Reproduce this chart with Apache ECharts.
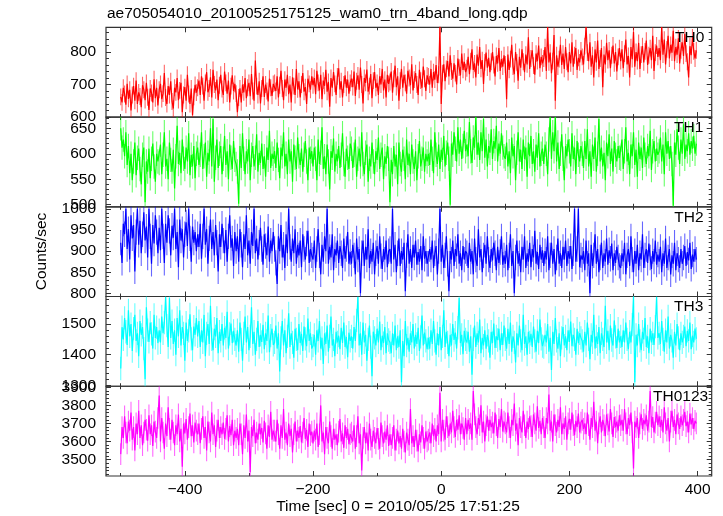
<!DOCTYPE html>
<html>
<head>
<meta charset="utf-8">
<script src="https://cdn.jsdelivr.net/npm/echarts@6/dist/echarts.min.js"></script>
<style>
html,body{margin:0;padding:0;background:#fff;}
#chart{width:723px;height:516px;}
</style>
</head>
<body>
<div id="chart"></div>
<script>
// ---- data (time bins of 2 s starting at -500 s) ----
const tStart = -500;
const binSec = 2;
const panelNames = ['TH0', 'TH1', 'TH2', 'TH3', 'TH0123'];
const titleText = 'ae705054010_20100525175125_wam0_trn_4band_long.qdp';
const xTitle = 'Time [sec] 0 = 2010/05/25 17:51:25';
const yTitle = 'Counts/sec';
const xMajorTicks = [-400, -200, 0, 200, 400];
const xMinorTicks = [-500, -300, -100, 100, 300];
const yMajorTicks = [
  [600, 700, 800],
  [500, 550, 600, 650],
  [800, 850, 900, 950, 1000],
  [1300, 1400, 1500],
  [3500, 3600, 3700, 3800, 3900]
];
// half-length of the 1-sigma error bars, counts/sec
const errHalf = [26, 24, 30, 38, 60];

const th0 = [
662,645,690,671,638,702,656,684,620,668,695,650,712,640,676,663,630,698,684,652,705,661,622,688,674,645,716,658,690,636,
684,702,655,672,735,660,640,695,668,710,648,626,690,676,720,652,682,705,615,668,692,650,730,671,640,688,606,662,699,675,
690,712,668,725,695,650,705,738,676,688,722,660,745,700,682,715,652,698,730,686,668,740,705,672,712,645,695,728,680,702,
672,615,660,688,645,700,676,720,658,690,705,664,732,680,650,774,695,668,710,642,688,725,662,700,680,648,718,690,665,702,
705,680,725,660,698,742,688,652,715,690,730,670,700,645,722,695,668,748,685,710,660,700,735,678,692,640,718,702,684,725,
698,720,670,742,705,682,730,655,712,696,745,678,708,632,720,690,738,702,668,725,750,685,710,660,700,728,690,715,672,705,
718,692,740,665,710,728,684,752,700,642,720,705,746,678,695,732,658,712,738,690,705,668,725,700,748,682,715,660,730,702,
708,740,675,718,758,692,725,650,712,748,690,730,705,672,742,720,698,762,682,715,735,700,668,745,712,690,755,718,680,728,
725,700,748,690,738,715,760,705,730,880,640,735,762,710,748,772,725,790,740,718,765,735,700,780,752,728,795,745,770,738,
750,785,732,772,808,745,765,722,792,758,815,748,775,702,768,798,752,782,738,770,800,760,725,788,765,812,742,778,755,790,
762,655,792,745,778,822,755,732,800,768,712,785,752,808,770,738,792,762,845,748,780,805,758,730,795,772,820,750,785,765,
780,815,742,877,768,798,735,772,852,650,790,755,778,822,760,795,748,815,770,738,800,765,830,755,790,812,745,782,768,805,
785,762,818,877,798,772,830,755,790,722,808,768,835,748,780,812,692,792,762,828,775,805,750,790,820,765,800,740,785,812,
772,808,750,795,838,762,788,722,815,778,862,755,800,772,828,748,792,818,768,802,835,760,790,812,775,850,742,798,820,785,
812,775,877,792,838,762,808,850,780,822,798,865,772,815,792,842,765,805,830,788,855,795,770,722,818,790,845,802,780,805
];
const th1 = [
650,612,628,595,642,578,615,562,600,548,585,622,558,592,610,570,540,598,612,505,585,565,610,552,590,620,575,545,600,585,
582,618,560,598,642,575,590,550,622,588,565,608,532,595,655,580,602,562,628,590,570,612,585,640,558,598,575,615,552,600,
612,578,598,642,570,595,622,555,602,585,650,575,668,545,592,628,572,600,615,560,590,635,578,605,550,618,592,570,625,588,
580,565,502,615,572,640,590,560,605,585,628,548,598,615,575,592,638,565,602,582,620,570,595,555,612,588,645,572,600,590,
605,572,622,588,552,612,595,642,575,600,560,628,585,605,545,618,592,570,632,595,578,610,565,598,625,585,548,612,590,605,
575,612,590,548,628,580,602,652,570,595,560,618,585,530,605,592,630,565,600,585,615,572,598,640,580,555,610,592,570,620,
610,572,598,628,555,590,610,575,642,580,560,602,618,545,590,575,622,585,560,605,588,632,570,598,612,550,595,580,615,590,
505,588,560,615,575,598,540,622,580,565,608,590,550,628,578,600,560,618,585,570,605,548,595,625,575,590,612,565,600,585,
600,578,628,590,562,642,598,580,618,570,608,588,635,575,602,622,590,500,620,598,642,610,585,652,600,628,590,615,645,605,
618,595,662,605,582,632,612,672,598,622,588,642,605,668,592,628,575,615,602,648,590,625,610,655,585,620,600,640,612,595,
590,622,575,605,562,632,595,615,548,602,642,585,608,570,628,590,612,555,622,595,635,580,605,565,618,592,640,575,600,610,
580,618,600,560,628,672,590,642,605,672,585,622,570,600,638,590,548,615,595,628,605,575,640,590,612,560,625,598,585,615,
600,572,625,590,648,575,605,555,618,590,632,565,600,668,585,612,575,602,548,622,595,638,580,610,565,625,598,585,615,592,
590,628,570,605,652,585,602,560,618,595,642,578,608,555,622,590,612,572,632,598,580,615,595,645,568,605,625,585,610,598,
605,632,585,618,560,642,600,625,590,615,580,498,622,598,648,612,580,628,600,658,590,618,605,640,598,625,610,635,600,620
];
const th2 = [
920,872,965,940,1000,905,952,880,985,930,962,852,945,1000,915,972,895,940,992,925,958,885,1000,935,870,962,918,985,945,895,
955,902,1000,935,872,965,920,985,948,890,960,932,1000,905,945,862,975,925,952,885,940,968,912,1000,930,875,958,920,945,900,
940,910,965,882,935,1000,915,952,870,930,975,905,945,890,962,920,852,940,910,965,925,895,950,875,935,985,908,930,865,945,
900,935,875,952,915,862,940,905,985,890,925,870,945,912,1000,895,930,880,920,955,905,868,940,912,890,958,875,925,900,945,
905,872,822,935,900,962,885,915,860,940,895,1000,910,875,930,895,952,870,915,890,925,862,940,905,880,918,948,872,905,890,
880,925,860,905,952,890,845,915,875,935,900,1000,870,910,885,940,855,905,890,925,872,912,895,860,930,882,905,945,870,898,
870,915,890,845,930,880,905,800,895,925,865,910,880,952,860,900,875,920,845,895,912,870,935,888,858,905,880,925,862,900,
905,870,1000,880,915,850,895,930,865,900,880,920,805,890,940,870,905,860,915,885,925,868,898,875,912,855,935,882,900,870,
870,905,880,925,860,895,912,845,900,1000,875,915,860,890,935,870,805,900,880,925,865,905,888,940,870,895,855,912,880,900,
895,860,920,875,900,845,930,880,865,952,885,905,850,890,915,870,935,880,860,905,878,920,895,855,910,872,898,935,868,890,
870,915,855,890,940,865,900,800,885,925,870,895,850,910,880,935,860,895,875,920,862,905,885,948,870,898,858,915,880,902,
865,900,880,935,855,890,920,870,905,845,885,930,870,895,860,910,880,925,865,900,882,912,858,895,1000,875,905,1000,862,890,
880,900,855,925,870,895,800,915,865,890,940,870,905,850,885,920,860,895,875,930,868,902,882,918,855,895,872,910,885,865,
860,895,875,920,845,890,905,865,935,880,850,900,870,915,855,895,880,940,860,890,905,872,918,885,858,900,875,925,868,892,
875,910,850,895,870,930,860,885,905,845,890,870,920,855,895,880,860,905,870,885,912,865,898,878,920,858,892,875,905,880
];
const th3 = [
1355,1490,1450,1520,1475,1432,1545,1460,1500,1412,1485,1530,1445,1470,1395,1510,1465,1490,1420,1320,1555,1480,1442,1505,1468,1420,1530,1455,1490,1438,
1480,1440,1525,1470,1505,1588,1495,1425,1585,1455,1510,1435,1480,1400,1520,1460,1545,1430,1490,1470,1380,1505,1445,1478,1532,1452,1415,1492,1465,1520,
1460,1510,1425,1480,1440,1530,1395,1470,1500,1435,1560,1450,1415,1485,1460,1520,1405,1475,1445,1500,1430,1488,1455,1540,1420,1468,1502,1438,1478,1450,
1430,1480,1410,1505,1450,1380,1470,1525,1440,1490,1415,1460,1555,1435,1475,1400,1450,1510,1425,1465,1442,1498,1418,1470,1445,1528,1408,1462,1485,1432,
1440,1495,1420,1470,1345,1455,1510,1430,1480,1405,1460,1535,1425,1470,1440,1390,1485,1450,1415,1500,1438,1468,1412,1492,1452,1428,1518,1445,1470,1420,
1430,1465,1400,1480,1445,1510,1420,1455,1370,1470,1435,1495,1410,1460,1525,1430,1450,1395,1475,1440,1462,1418,1488,1438,1505,1425,1458,1392,1472,1445,
1460,1420,1490,1445,1512,1588,1430,1470,1400,1505,1440,1465,1380,1450,1495,1425,1330,1475,1455,1430,1485,1440,1508,1415,1462,1438,1490,1405,1470,1448,
1440,1405,1470,1430,1495,1415,1460,1425,1480,1310,1445,1395,1510,1430,1455,1410,1470,1440,1500,1420,1465,1435,1488,1412,1458,1528,1430,1472,1445,1418,
1455,1420,1480,1435,1510,1445,1400,1470,1430,1490,1415,1460,1545,1425,1475,1440,1395,1465,1430,1500,1448,1472,1420,1488,1585,1438,1465,1402,1478,1450,
1440,1475,1410,1460,1335,1450,1495,1425,1470,1440,1515,1405,1455,1430,1480,1420,1465,1445,1390,1475,1438,1502,1422,1460,1448,1485,1415,1470,1432,1495,
1450,1420,1485,1435,1505,1410,1460,1440,1375,1470,1430,1495,1445,1415,1530,1435,1460,1400,1475,1440,1468,1425,1492,1445,1410,1478,1438,1515,1452,1428,
1425,1465,1440,1500,1410,1455,1350,1475,1435,1520,1445,1420,1470,1395,1455,1490,1430,1460,1415,1480,1442,1508,1428,1465,1450,1400,1485,1438,1470,1455,
1445,1410,1475,1430,1505,1450,1385,1465,1440,1530,1420,1460,1435,1490,1405,1470,1450,1425,1560,1440,1478,1415,1495,1448,1430,1512,1458,1422,1485,1440,
1460,1425,1480,1440,1505,1450,1418,1475,1440,1498,1590,1310,1465,1430,1500,1445,1415,1475,1450,1520,1425,1460,1405,1485,1440,1470,1432,1492,1588,1455,
1470,1435,1510,1450,1410,1480,1440,1525,1420,1465,1445,1390,1475,1430,1500,1455,1415,1470,1440,1460,1492,1428,1478,1445,1505,1418,1462,1440,1485,1452
];
const th0123 = [
3530,3680,3620,3740,3650,3590,3710,3660,3760,3610,3680,3550,3700,3640,3770,3620,3690,3580,3650,3720,3665,3605,3745,3640,3690,3575,3710,3655,3620,3730,
3855,3600,3730,3650,3560,3700,3630,3790,3670,3610,3720,3650,3580,3690,3640,3750,3600,3670,3460,3700,3645,3725,3610,3680,3755,3630,3690,3595,3705,3660,
3640,3700,3590,3670,3740,3620,3680,3550,3710,3650,3600,3760,3640,3690,3570,3660,3720,3620,3680,3640,3705,3615,3670,3745,3600,3685,3635,3720,3580,3660,
3620,3670,3580,3700,3640,3530,3690,3620,3750,3600,3660,3430,3680,3630,3720,3590,3650,3610,3700,3640,3675,3595,3715,3645,3560,3690,3625,3765,3610,3660,
3660,3600,3720,3640,3560,3690,3620,3780,3610,3650,3580,3700,3630,3670,3540,3640,3710,3600,3660,3620,3685,3595,3650,3730,3615,3665,3570,3700,3635,3655,
3590,3660,3610,3700,3570,3640,3800,3600,3650,3530,3680,3620,3590,3710,3630,3560,3670,3610,3640,3580,3655,3725,3600,3645,3565,3690,3620,3670,3585,3640,
3650,3600,3690,3560,3630,3740,3590,3640,3440,3620,3680,3590,3650,3550,3700,3610,3570,3660,3620,3590,3675,3615,3560,3705,3630,3590,3655,3610,3690,3575,
3640,3580,3620,3690,3550,3610,3660,3590,3630,3560,3670,3600,3540,3650,3610,3580,3780,3590,3630,3570,3665,3605,3545,3640,3595,3690,3620,3560,3655,3600,
3610,3650,3590,3700,3630,3670,3600,3690,3640,3870,3600,3720,3660,3610,3740,3680,3630,3700,3650,3770,3680,3625,3720,3665,3745,3640,3700,3675,3610,3730,
3640,3720,3670,3700,3610,3880,3750,3680,3640,3730,3690,3800,3650,3710,3600,3690,3740,3660,3720,3680,3705,3645,3760,3690,3620,3725,3680,3780,3655,3710,
3700,3650,3760,3680,3620,3720,3690,3810,3660,3700,3580,3730,3680,3650,3770,3690,3620,3710,3670,3740,3685,3625,3750,3700,3660,3795,3675,3715,3640,3730,
3680,3620,3730,3700,3860,3660,3710,3600,3750,3690,3650,3720,3680,3790,3640,3700,3670,3740,3610,3700,3725,3665,3760,3690,3635,3715,3680,3755,3650,3705,
3720,3670,3700,3640,3760,3690,3610,3730,3680,3820,3660,3710,3590,3700,3740,3650,3720,3690,3630,3750,3695,3655,3780,3700,3625,3735,3680,3710,3660,3745,
3690,3720,3660,3780,3700,3640,3730,3690,3760,3650,3450,3710,3680,3730,3620,3700,3750,3670,3720,3695,3745,3660,3710,3880,3680,3735,3650,3705,3765,3690,
3740,3680,3720,3650,3790,3700,3660,3730,3600,3710,3770,3680,3720,3640,3750,3700,3670,3740,3690,3720,3765,3685,3710,3650,3755,3695,3730,3670,3715,3700
];
const seriesValues = [th0, th1, th2, th3, th0123];

// ---- layout / style ----
const colors = ['#ff0000', '#00ff00', '#0000ff', '#00ffff', '#ff00ff'];
const yRange = [[600, 876], [496, 672], [792.5, 1005], [1297, 1590], [3409, 3906]];
const yMinorStep = [20, 10, 10, 20, 20];
const xRange = [-523, 422];
const gridLeft = 106, gridWidth = 605.7, gridTop0 = 27.3, gridH = 89.74;
const FONT = '"Liberation Sans", Arial, Helvetica, sans-serif';
const frameColor = '#333333';

const grids = [], xAxes = [], yAxes = [], series = [];
const minorVals = (lo, hi, step, majors) => {
  const out = [];
  for (let v = Math.ceil(lo / step) * step; v <= hi; v += step) {
    if (!majors.includes(v)) out.push(v);
  }
  return out;
};

for (let p = 0; p < 5; p++) {
  grids.push({
    left: gridLeft, width: gridWidth,
    top: gridTop0 + p * gridH, height: gridH,
    show: true, borderColor: frameColor, borderWidth: 1.2, backgroundColor: 'transparent'
  });
  const isLast = p === 4;
  const mkX = (position, ticks, len, showLabel) => ({
    type: 'value', gridIndex: p, position: position,
    min: xRange[0], max: xRange[1],
    axisLine: { show: false, onZero: false },
    splitLine: { show: false },
    axisTick: { show: true, inside: true, length: len, customValues: ticks,
      lineStyle: { color: frameColor, width: 1 } },
    axisLabel: { show: showLabel, customValues: ticks, margin: 6,
      fontFamily: FONT, fontSize: 15.5, color: '#000',
      formatter: v => String(v).replace('-', '\u2212') }
  });
  xAxes.push(mkX('bottom', xMajorTicks, 5, isLast));
  xAxes.push(mkX('bottom', xMinorTicks, 3, false));
  xAxes.push(mkX('top', xMajorTicks, 5, false));
  xAxes.push(mkX('top', xMinorTicks, 3, false));

  const majors = yMajorTicks[p];
  const minors = minorVals(yRange[p][0], yRange[p][1], yMinorStep[p], majors);
  const mkY = (position, ticks, len, showLabel) => ({
    type: 'value', gridIndex: p, position: position,
    min: yRange[p][0], max: yRange[p][1],
    axisLine: { show: false, onZero: false },
    splitLine: { show: false },
    axisTick: { show: true, inside: true, length: len, customValues: ticks,
      lineStyle: { color: frameColor, width: 1 } },
    axisLabel: { show: showLabel, customValues: ticks, margin: 10,
      fontFamily: FONT, fontSize: 15.5, color: '#000',
      formatter: v => String(v) }
  });
  yAxes.push(mkY('left', majors, 5, true));
  yAxes.push(mkY('left', minors, 3, false));
  yAxes.push(mkY('right', majors, 5, false));
  yAxes.push(mkY('right', minors, 3, false));

  const pts = seriesValues[p].map((v, i) => [tStart + i * binSec, v]);
  const errPts = seriesValues[p].map((v, i) => [tStart + i * binSec, v, errHalf[p]]);
  const col = colors[p];
  series.push({
    type: 'custom', coordinateSystem: 'cartesian2d',
    xAxisIndex: 4 * p, yAxisIndex: 4 * p, data: errPts,
    encode: { x: 0, y: 1 }, clip: true, silent: true, z: 2,
    renderItem: (params, api) => {
      const t = api.value(0), v = api.value(1), e = api.value(2);
      const a = api.coord([t, v - e]);
      const b = api.coord([t, v + e]);
      return { type: 'line', shape: { x1: a[0], y1: a[1], x2: b[0], y2: b[1] },
        style: { stroke: col, lineWidth: 1.1, opacity: 0.6 } };
    }
  });
  series.push({
    type: 'line', xAxisIndex: 4 * p, yAxisIndex: 4 * p, data: pts,
    showSymbol: false, clip: true, silent: true, z: 3,
    lineStyle: { color: col, width: 1.2 }
  });
}

const panelLabelPos = [[675, 37.3], [674, 127.7], [674.3, 217.7], [674, 306.7], [653, 396.7]];
const graphics = [
  { type: 'text', x: 107, y: 14, style: { text: titleText, font: '15.5px ' + FONT, fill: '#000', verticalAlign: 'middle', align: 'left' } },
  { type: 'text', x: 398, y: 507, style: { text: xTitle, font: '15.5px ' + FONT, fill: '#000', verticalAlign: 'middle', align: 'center' } },
  { type: 'text', x: 42, y: 251.5, rotation: Math.PI / 2, style: { text: yTitle, font: '15.5px ' + FONT, fill: '#000', verticalAlign: 'middle', align: 'center' } }
];
panelNames.forEach((n, i) => {
  graphics.push({ type: 'text', x: panelLabelPos[i][0], y: panelLabelPos[i][1], z: 10,
    style: { text: n, font: '15.5px ' + FONT, fill: '#000', verticalAlign: 'middle', align: 'left' } });
});

const chart = echarts.init(document.getElementById('chart'), null, { renderer: 'canvas' });
chart.setOption({
  animation: false,
  backgroundColor: '#ffffff',
  grid: grids,
  xAxis: xAxes,
  yAxis: yAxes,
  series: series,
  graphic: graphics
});
</script>
</body>
</html>
